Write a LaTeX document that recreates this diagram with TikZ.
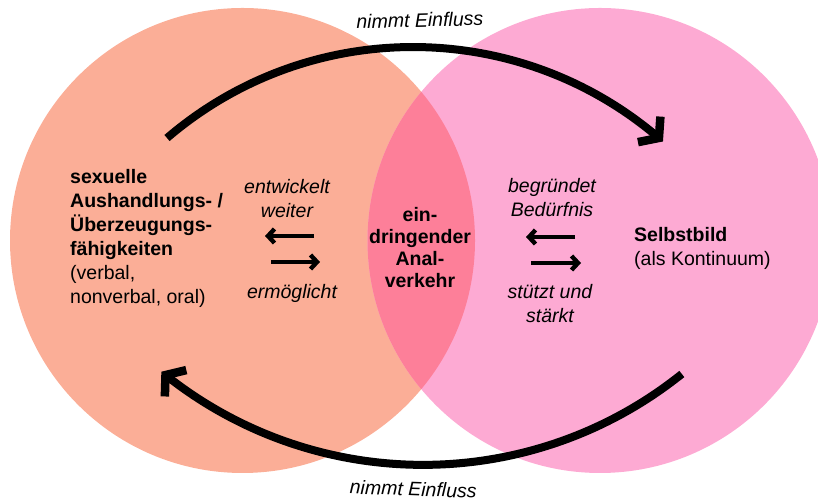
\documentclass[tikz,border=0pt]{standalone}
\usepackage{fontspec}
\setmainfont{Liberation Sans}
\usetikzlibrary{arrows.meta,bending}
\definecolor{leftc}{HTML}{FBAE97}
\definecolor{rightc}{HTML}{FDAAD3}
\definecolor{lensc}{HTML}{FD7F99}
\tikzset{
  lbl/.style={inner sep=0pt, font=\fontsize{19.5}{24}\selectfont},
  bigarrow/.style={line width=8pt, -{Straight Barb[length=13pt,width=34pt,line width=8.5pt]}},
  smallarrow/.style={line width=4.4pt, -{Straight Barb[length=6.5pt,width=14pt,line width=4.4pt]}}
}
\begin{document}
\begin{tikzpicture}[x=1pt,y=1pt]
\useasboundingbox (0,0) rectangle (818,502);
% circles
\coordinate (cl) at (242.5,261.5);
\coordinate (cr) at (600,261.5);
\fill[leftc] (cl) circle[radius=232.5];
\fill[rightc] (cr) circle[radius=232.5];
\begin{scope}
  \clip (cl) circle[radius=232.5];
  \fill[lensc] (cr) circle[radius=232.5];
\end{scope}
% big arcs
\coordinate (a1) at ({413+378*cos(130.6)},{77+378*sin(130.6)});
\draw[bigarrow] (a1) arc[start angle=130.6, end angle=48.6, radius=378];
\coordinate (a2) at ({423+414*cos(-51.3)},{451.1+414*sin(-51.3)});
\draw[bigarrow] (a2) arc[start angle=-51.3, end angle=-129.2, radius=414];
% labels
\node[lbl, anchor=base, rotate=1.5] (top) at (420,475) {\itshape nimmt Einfluss};
\node[lbl, anchor=base, rotate=-2] (bot) at (413,6) {\itshape nimmt Einfluss};
\node[lbl, anchor=north west, align=left] (skill) at (70,333)
  {\bfseries sexuelle\\\bfseries Aushandlungs- /\\\bfseries Überzeugungs-\\\bfseries fähigkeiten\\(verbal,\\nonverbal, oral)};
\node[lbl, anchor=north, align=center] (entw) at (287,323) {\itshape entwickelt\\\itshape weiter};
\node[lbl, anchor=north, align=center] (ermo) at (292,218) {\itshape ermöglicht};
\node[lbl, anchor=north, align=center, font=\fontsize{19.5}{22}\selectfont\bfseries] (mid) at (420,294.5)
  {ein-\\dringender\\Anal-\\verkehr};
\node[lbl, anchor=north, align=center] (begr) at (552,324) {\itshape begründet\\\itshape Bedürfnis};
\node[lbl, anchor=north, align=center] (stue) at (550,218) {\itshape stützt und\\\itshape stärkt};
\node[lbl, anchor=north west, align=left] (selb) at (634,275) {\bfseries Selbstbild\\(als Kontinuum)};
% small arrows
\coordinate (l1s) at (314,266); \coordinate (l1e) at (265,266);
\coordinate (r1s) at (271,240); \coordinate (r1e) at (320,240);
\coordinate (l2s) at (575,265); \coordinate (l2e) at (526,265);
\coordinate (r2s) at (531,239); \coordinate (r2e) at (581,239);
\draw[smallarrow] (l1s) -- (l1e);
\draw[smallarrow] (r1s) -- (r1e);
\draw[smallarrow] (l2s) -- (l2e);
\draw[smallarrow] (r2s) -- (r2e);
\end{tikzpicture}
\end{document}
